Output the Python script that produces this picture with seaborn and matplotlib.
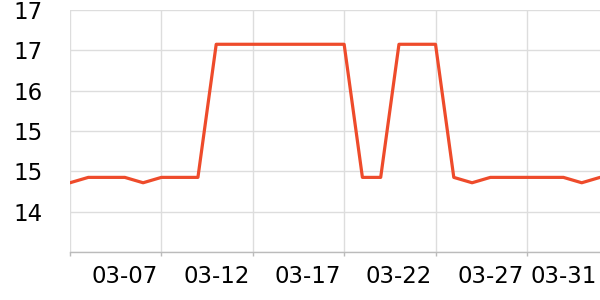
import matplotlib
matplotlib.use("Agg")
import matplotlib.pyplot as plt
import seaborn as sns
import pandas as pd
from matplotlib.ticker import FixedLocator, FixedFormatter

dates = ["03-04", "03-05", "03-06", "03-07", "03-08", "03-09", "03-10", "03-11",
         "03-12", "03-13", "03-14", "03-15", "03-16", "03-17", "03-18", "03-19",
         "03-20", "03-21", "03-22", "03-23", "03-24", "03-25", "03-26", "03-27",
         "03-28", "03-29", "03-30", "03-31", "04-01", "04-02"]
values = [14.63, 14.71, 14.71, 14.71, 14.63, 14.71, 14.71, 14.71,
          16.69, 16.69, 16.69, 16.69, 16.69, 16.69, 16.69, 16.69,
          14.71, 14.71, 16.69, 16.69, 16.69, 14.71, 14.63, 14.71,
          14.71, 14.71, 14.71, 14.71, 14.63, 14.71]
label_dates = ["03-07", "03-12", "03-17", "03-22", "03-27", "03-31"]
grid_dates = ["03-04", "03-09", "03-14", "03-19", "03-24", "03-29"]
y_ticks = [13.6, 14.2, 14.8, 15.4, 16.0, 16.6, 17.2]

df = pd.DataFrame({"date": dates, "value": values})
df["pos"] = range(len(df))
pos_of = dict(zip(df["date"], df["pos"]))

sns.set_style("white")
plt.rcParams["font.family"] = ["DejaVu Sans"]

fig = plt.figure(figsize=(6, 3), dpi=100)
ax = fig.add_axes([70 / 600, 48 / 300, 530 / 600, 242 / 300])

sns.lineplot(data=df, x="pos", y="value", ax=ax, color="#EE4B2B", linewidth=2.3)

ax.set_xlim(0, len(dates) - 1)
ax.set_ylim(y_ticks[0], y_ticks[-1])

# major x ticks: gridlines, no labels
ax.xaxis.set_major_locator(FixedLocator([pos_of[d] for d in grid_dates]))
ax.xaxis.set_major_formatter(FixedFormatter([""] * len(grid_dates)))
# minor x ticks: labels, no marks
ax.xaxis.set_minor_locator(FixedLocator([pos_of[d] for d in label_dates]))
ax.xaxis.set_minor_formatter(FixedFormatter(label_dates))
ax.tick_params(axis="x", which="major", length=3, color="#bbbbbb", width=1, bottom=True)
ax.tick_params(axis="x", which="minor", length=0, pad=9.5, labelsize=16.5, colors="black", bottom=True)

ax.yaxis.set_major_locator(FixedLocator(y_ticks))
ax.yaxis.set_major_formatter(FixedFormatter([""] + [f"{v:.0f}" for v in y_ticks[1:]]))
ax.tick_params(axis="y", length=0, pad=20, labelsize=16.5, colors="black")

ax.grid(True, which="major", color="#dddddd", linewidth=1)
for s in ["top", "right", "left"]:
    ax.spines[s].set_visible(False)
ax.spines["bottom"].set_color("#bbbbbb")
ax.spines["bottom"].set_linewidth(1)

ax.set_xlabel("")
ax.set_ylabel("")

fig.savefig("out.png", dpi=100)
